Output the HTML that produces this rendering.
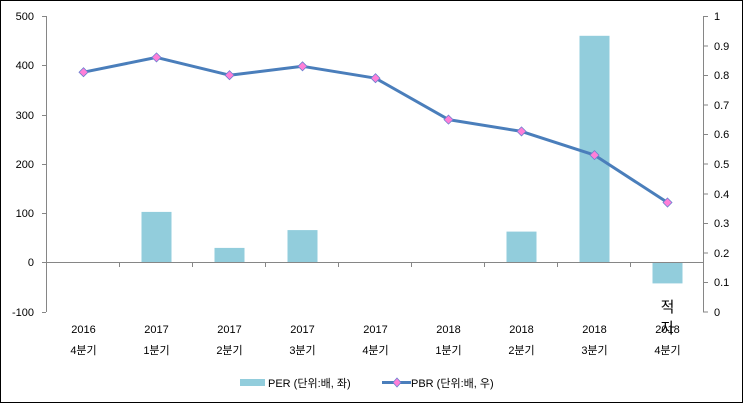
<!DOCTYPE html>
<html><head><meta charset="utf-8"><style>
html,body{margin:0;padding:0;background:#fff}
svg{display:block}
text{font-family:"Liberation Sans","Noto Sans CJK KR",sans-serif;font-size:11px;fill:#000}
</style></head><body>
<svg width="743" height="403" viewBox="0 0 743 403">
<rect x="0.5" y="0.5" width="742" height="402" fill="#fff" stroke="#000"/>
<!-- bars -->
<g fill="#92cddc">
<rect x="141.5" y="211.9" width="30" height="50.8"/>
<rect x="214.5" y="247.9" width="30" height="14.8"/>
<rect x="287.5" y="230.1" width="30" height="32.6"/>
<rect x="506.5" y="231.6" width="30" height="31.1"/>
<rect x="579.5" y="35.8" width="30" height="226.9"/>
<rect x="652.5" y="262.7" width="30" height="20.7"/>
</g>
<!-- axes -->
<g stroke="#868686" stroke-width="1" fill="none">
<line x1="46.5" y1="16" x2="46.5" y2="312"/>
<line x1="703.5" y1="16" x2="703.5" y2="312"/>
<line x1="46.5" y1="262.5" x2="703.5" y2="262.5"/>
<path d="M42 16.5H46 M42 65.5H46 M42 115.5H46 M42 164.5H46 M42 213.5H46 M42 262.5H46 M42 312.5H46"/>
<path d="M703 16.5H708 M703 46H708 M703 75.5H708 M703 105H708 M703 134.5H708 M703 164H708 M703 194H708 M703 223.5H708 M703 253H708 M703 282.5H708 M703 312H708"/>
<path d="M119.5 262V267 M192.5 262V267 M265.5 262V267 M338.5 262V267 M411.5 262V267 M484.5 262V267 M557.5 262V267 M630.5 262V267"/>
</g>
<!-- left labels -->
<g text-anchor="end">
<text x="34" y="20">500</text><text x="34" y="69">400</text><text x="34" y="119">300</text>
<text x="34" y="168">200</text><text x="34" y="217">100</text><text x="34" y="266">0</text><text x="34" y="316">-100</text>
</g>
<g text-anchor="start">
<text x="714" y="20">1</text><text x="714" y="50">0.9</text><text x="714" y="79">0.8</text>
<text x="714" y="109">0.7</text><text x="714" y="138">0.6</text><text x="714" y="168">0.5</text>
<text x="714" y="198">0.4</text><text x="714" y="227">0.3</text><text x="714" y="257">0.2</text>
<text x="714" y="286">0.1</text><text x="714" y="316">0</text>
</g>
<!-- category labels -->
<g text-anchor="middle">
<text x="83.5" y="333">2016</text><text x="83.5" y="354">4분기</text>
<text x="156.5" y="333">2017</text><text x="156.5" y="354">1분기</text>
<text x="229.5" y="333">2017</text><text x="229.5" y="354">2분기</text>
<text x="302.5" y="333">2017</text><text x="302.5" y="354">3분기</text>
<text x="375.5" y="333">2017</text><text x="375.5" y="354">4분기</text>
<text x="448.5" y="333">2018</text><text x="448.5" y="354">1분기</text>
<text x="521.5" y="333">2018</text><text x="521.5" y="354">2분기</text>
<text x="594.5" y="333">2018</text><text x="594.5" y="354">3분기</text>
<text x="667.5" y="333">2018</text><text x="667.5" y="354">4분기</text>
<text x="667.5" y="312" style="font-size:15px">적</text>
<text x="667.5" y="333" style="font-size:15px">자</text>
</g>
<!-- line -->
<polyline fill="none" stroke="#4a7ebb" stroke-width="3" stroke-linejoin="round"
points="83.5,72.2 156.5,57.4 229.5,75.2 302.5,66.3 375.5,78.2 448.5,119.6 521.5,131.4 594.5,155.1 667.5,202.5"/>
<g fill="#ff7fd8" stroke="#6d7fd0" stroke-width="0.8">
<path d="M83.5 67.7l4.5 4.5-4.5 4.5-4.5-4.5z"/>
<path d="M156.5 52.9l4.5 4.5-4.5 4.5-4.5-4.5z"/>
<path d="M229.5 70.7l4.5 4.5-4.5 4.5-4.5-4.5z"/>
<path d="M302.5 61.8l4.5 4.5-4.5 4.5-4.5-4.5z"/>
<path d="M375.5 73.7l4.5 4.5-4.5 4.5-4.5-4.5z"/>
<path d="M448.5 115.1l4.5 4.5-4.5 4.5-4.5-4.5z"/>
<path d="M521.5 126.9l4.5 4.5-4.5 4.5-4.5-4.5z"/>
<path d="M594.5 150.6l4.5 4.5-4.5 4.5-4.5-4.5z"/>
<path d="M667.5 198l4.5 4.5-4.5 4.5-4.5-4.5z"/>
</g>
<!-- legend -->
<rect x="240" y="379" width="25" height="7" fill="#92cddc"/>
<text x="268" y="387">PER (단위:배, 좌)</text>
<line x1="382" y1="382.5" x2="411" y2="382.5" stroke="#4a7ebb" stroke-width="3"/>
<path d="M397 378l4 4.5-4 4.5-4-4.5z" fill="#ff7fd8" stroke="#6d7fd0" stroke-width="0.8"/>
<text x="411" y="387">PBR (단위:배, 우)</text>
</svg>
</body></html>
